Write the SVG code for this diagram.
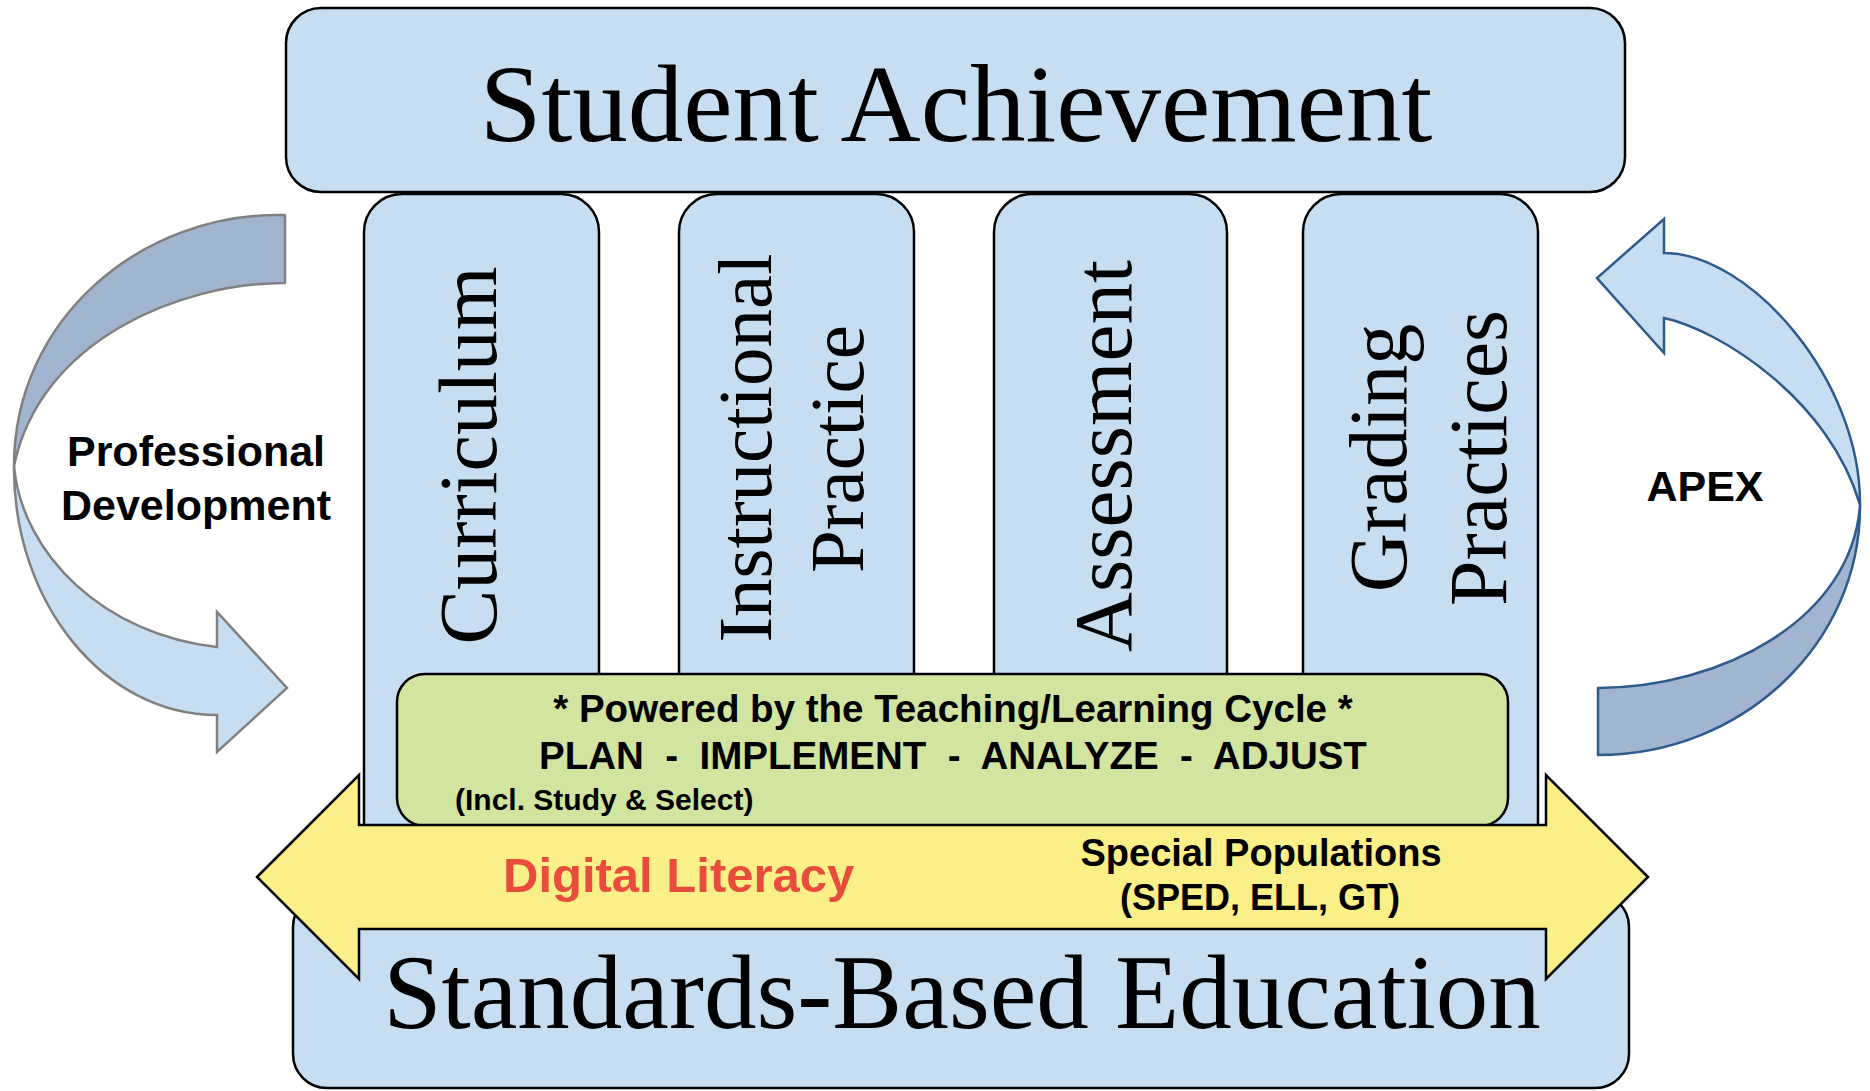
<svg xmlns="http://www.w3.org/2000/svg" width="1870" height="1091" viewBox="0 0 1870 1091">
<style>
.box{fill:#c6ddf2;stroke:#000;stroke-width:2.5}
.green{fill:#d1e4a0;stroke:#000;stroke-width:2.5}
.yellow{fill:#fbef87;stroke:#000;stroke-width:2.5;stroke-linejoin:miter}
.serif{font-family:"Liberation Serif","Times New Roman",serif;fill:#000}
.sans{font-family:"Liberation Sans",Arial,sans-serif;font-weight:bold;fill:#000}
.lback{fill:#a1b5d0;stroke:#808080;stroke-width:2.5;stroke-linejoin:round}
.lfront{fill:#c6ddf2;stroke:#808080;stroke-width:2.5;stroke-linejoin:miter}
.rback{fill:#a1b5d0;stroke:#2e5b8c;stroke-width:2.5;stroke-linejoin:round}
.rfront{fill:#c6ddf2;stroke:#2e5b8c;stroke-width:2.5;stroke-linejoin:miter}
</style>
<rect width="1870" height="1091" fill="#ffffff"/>

<g id="connectors">
  <g id="arrow-professional-development">
    <path class="lback" d="M 285,215 C 140,212 14,320 14,466 C 40,340 180,283 285,283 Z"/>
    <path class="lfront" d="M 14,466 C 22,555 105,635 217,647 L 217,612 L 287,688 L 217,752 L 217,715 C 104,715 13,603 14,466 Z"/>
  </g>
  <g id="arrow-apex">
    <path class="rback" d="M 1860,505 C 1861,643 1743,755 1598,755 L 1598,688 C 1720,688 1852,620 1860,505 Z"/>
    <path class="rfront" d="M 1664,253 C 1750,253 1861,380 1860,505 C 1830,400 1720,330 1664,318 L 1664,353 L 1597,278 L 1664,219 Z"/>
  </g>
</g>

<g id="col-curriculum">
  <rect class="box" x="364" y="194" width="235" height="680" rx="38" ry="38"/>
  <text class="serif" font-size="82" text-anchor="middle" transform="translate(496,455.5) rotate(-90)">Curriculum</text>
</g>
<g id="col-instructional-practice">
  <rect class="box" x="679" y="194" width="235" height="680" rx="38" ry="38"/>
  <text class="serif" font-size="77" text-anchor="middle" transform="translate(771,448) rotate(-90)">Instructional</text>
  <text class="serif" font-size="77" text-anchor="middle" transform="translate(863,449) rotate(-90)">Practice</text>
</g>
<g id="col-assessment">
  <rect class="box" x="994" y="194" width="233" height="680" rx="38" ry="38"/>
  <text class="serif" font-size="83" text-anchor="middle" transform="translate(1131,456) rotate(-90)">Assessment</text>
</g>
<g id="col-grading-practices">
  <rect class="box" x="1303" y="194" width="235" height="680" rx="38" ry="38"/>
  <text class="serif" font-size="82" text-anchor="middle" transform="translate(1406,458) rotate(-90)">Grading</text>
  <text class="serif" font-size="82" text-anchor="middle" transform="translate(1506,458) rotate(-90)">Practices</text>
</g>

<g id="student-achievement">
  <rect class="box" x="286" y="8" width="1339" height="184" rx="35" ry="35"/>
  <text class="serif" font-size="111" text-anchor="middle" x="956" y="141">Student Achievement</text>
</g>

<g id="standards-based-education">
  <rect class="box" x="293" y="893" width="1336" height="195" rx="34" ry="34"/>
  <text class="serif" font-size="105" text-anchor="middle" x="962" y="1028">Standards-Based Education</text>
</g>

<g id="teaching-learning-cycle">
  <rect class="green" x="397" y="674" width="1111" height="152" rx="28" ry="28"/>
  <text class="sans" font-size="38.5" text-anchor="middle" x="953" y="722">* Powered by the Teaching/Learning Cycle *</text>
  <text class="sans" font-size="38.5" text-anchor="middle" x="953" y="769" xml:space="preserve" style="white-space:pre">PLAN  -  IMPLEMENT  -  ANALYZE  -  ADJUST</text>
  <text class="sans" font-size="30" x="455" y="810">(Incl. Study &amp; Select)</text>
</g>

<g id="digital-literacy-arrow">
  <path class="yellow" d="M 257,877 L 359,775 L 359,825 L 1546,825 L 1546,775 L 1648,877 L 1546,979 L 1546,929 L 359,929 L 359,979 Z"/>
  <text class="sans" font-size="49" x="503" y="892" style="fill:#e84c3d">Digital Literacy</text>
  <text class="sans" font-size="38" text-anchor="middle" x="1261" y="866">Special Populations</text>
  <text class="sans" font-size="36" text-anchor="middle" x="1260" y="910">(SPED, ELL, GT)</text>
</g>

<g id="label-professional-development">
  <text class="sans" font-size="43" text-anchor="middle" x="196" y="466">Professional</text>
  <text class="sans" font-size="43" text-anchor="middle" x="196" y="520">Development</text>
</g>
<g id="label-apex">
  <text class="sans" font-size="43" text-anchor="middle" x="1705" y="501">APEX</text>
</g>
</svg>
